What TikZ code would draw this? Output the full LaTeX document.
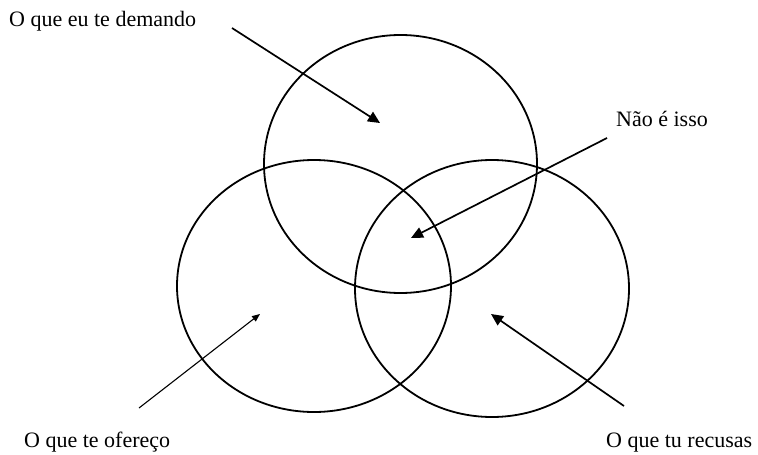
\documentclass[tikz,border=0pt]{standalone}
\usepackage{fontspec}
\setmainfont{Liberation Serif}
\usetikzlibrary{arrows.meta}
\begin{document}
\begin{tikzpicture}[x=1pt,y=-1pt,
  ring/.style={draw,line width=1.8pt},
  pointer/.style={draw,line width=1.7pt,-{Triangle[length=12pt,width=11pt]}},
  smallpointer/.style={draw,line width=1.1pt,-{Triangle[length=8pt,width=6.5pt]}},
  lbl/.style={font=\fontsize{22}{24}\selectfont,inner sep=0pt,anchor=base west}]
\useasboundingbox (0,0) rectangle (758,455);
\draw[ring] (400.5,164) ellipse [x radius=136.5, y radius=129];
\draw[ring] (314,286) ellipse [x radius=137, y radius=126];
\draw[ring] (492,288.5) ellipse [x radius=137, y radius=128.5];
\node[lbl] (demando) at (9,27) {O que eu te demando};
\node[lbl] (isso) at (616,126) {Não é isso};
\node[lbl] (oferece) at (24,447) {O que te ofereço};
\node[lbl] (recusas) at (606,447) {O que tu recusas};
\coordinate (a1) at (232,28);
\coordinate (b1) at (380,123);
\coordinate (a2) at (607,138);
\coordinate (b2) at (411,238);
\coordinate (a3) at (139,408);
\coordinate (b3) at (260,314);
\coordinate (a4) at (624,406);
\coordinate (b4) at (491,314);
\draw[pointer] (a1) -- (b1);
\draw[pointer] (a2) -- (b2);
\draw[smallpointer] (a3) -- (b3);
\draw[pointer] (a4) -- (b4);
\end{tikzpicture}
\end{document}
